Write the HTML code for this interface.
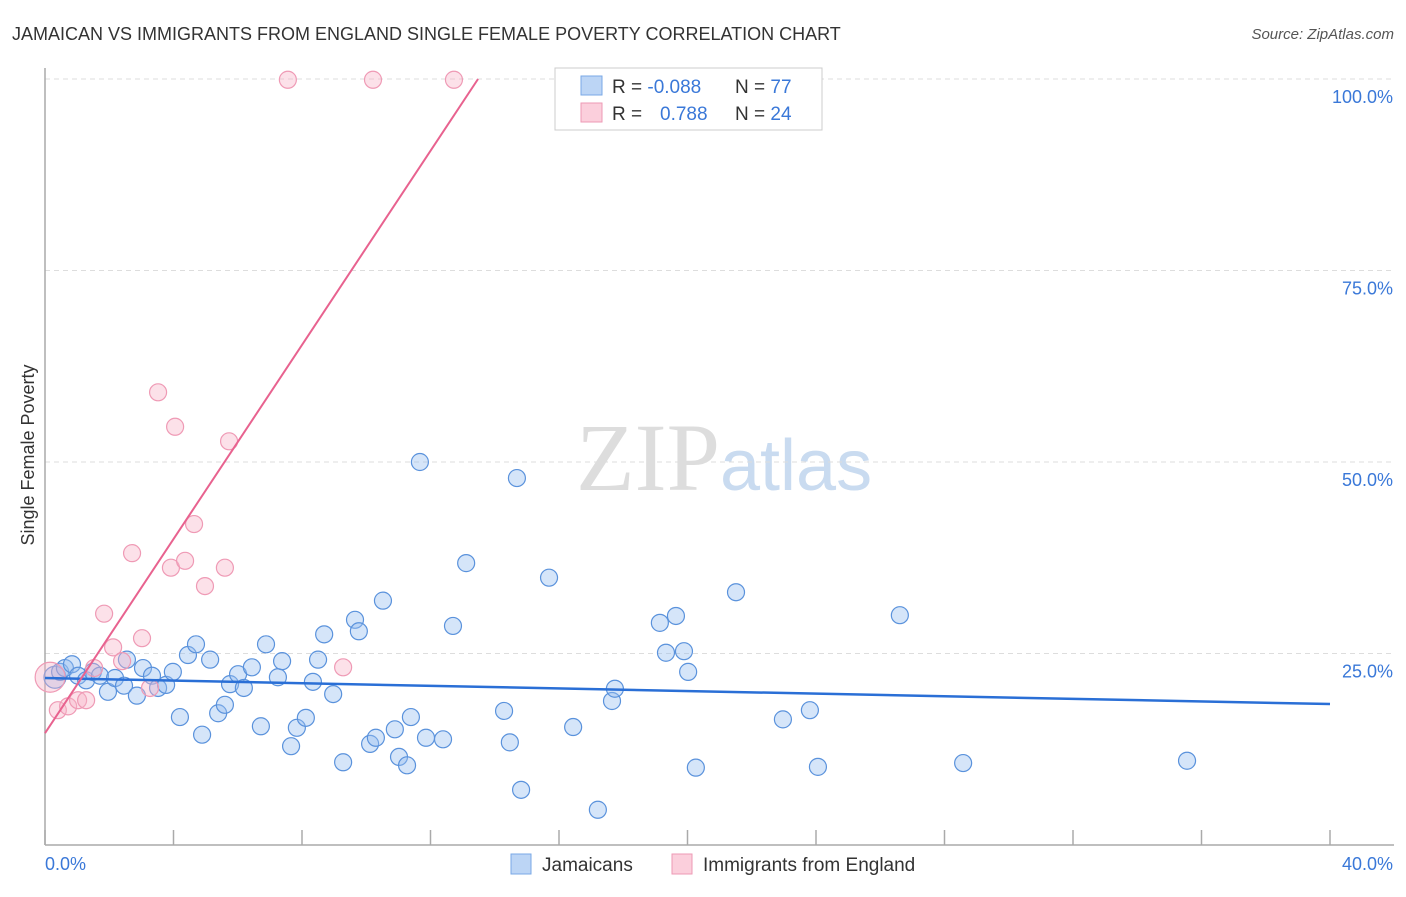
<!DOCTYPE html>
<html><head><meta charset="utf-8"><style>
body{margin:0;background:#fff;font-family:"Liberation Sans",sans-serif;}
</style></head><body>
<svg id="c" width="1406" height="892" xmlns="http://www.w3.org/2000/svg">
<text x="12" y="40" font-size="18" fill="#333">JAMAICAN VS IMMIGRANTS FROM ENGLAND SINGLE FEMALE POVERTY CORRELATION CHART</text>
<text x="1394" y="39" font-size="15" fill="#555" font-style="italic" text-anchor="end">Source: ZipAtlas.com</text>
<text x="720" y="490" font-size="96" fill="#ddd" text-anchor="end" font-family="Liberation Serif">ZIP</text>
<text x="720" y="490" font-size="72" fill="#c9dbf0">atlas</text>
<text x="34" y="455" font-size="18" fill="#333" transform="rotate(-90 34 455)" text-anchor="middle">Single Female Poverty</text>
<g id="grid"></g><g id="axes"></g><g id="pts"></g><g id="lines"></g>
<g>
<rect x="555" y="68" width="267" height="62" fill="#fff" stroke="#ccc"/>
<rect x="581" y="76" width="21" height="19" fill="#bcd5f5" stroke="#7aa8e6"/>
<rect x="581" y="103" width="21" height="19" fill="#fbcfdc" stroke="#ee9ab5"/>
<text x="612" y="93" font-size="19" fill="#333">R = <tspan fill="#3a78d8">-0.088</tspan><tspan x="735">N = </tspan><tspan fill="#3a78d8">77</tspan></text>
<text x="612" y="120" font-size="19" fill="#333">R = <tspan x="660" fill="#3a78d8">0.788</tspan><tspan x="735">N = </tspan><tspan fill="#3a78d8">24</tspan></text>
</g>
<g>
<rect x="511" y="854" width="20" height="20" fill="#bcd5f5" stroke="#7aa8e6"/>
<text x="542" y="871" font-size="19" fill="#333">Jamaicans</text>
<rect x="672" y="854" width="20" height="20" fill="#fbcfdc" stroke="#ee9ab5"/>
<text x="703" y="871" font-size="19" fill="#333">Immigrants from England</text>
</g>
</svg>
<script>
const blueX=[0.31,0.47,0.62,0.84,1.03,1.28,1.49,1.71,1.96,2.18,2.46,2.55,2.86,3.05,3.33,3.52,3.77,3.98,4.20,4.45,4.70,4.89,5.14,5.39,5.60,5.76,6.01,6.19,6.44,6.72,6.88,7.25,7.38,7.66,7.84,8.12,8.34,8.50,8.69,8.97,9.28,9.65,9.77,10.12,10.30,10.52,10.89,11.02,11.27,11.39,11.86,12.39,11.67,12.70,13.11,14.29,14.47,14.69,14.82,15.69,16.44,17.21,17.65,17.74,19.14,19.33,19.64,19.89,20.02,20.26,21.51,22.97,23.81,24.06,26.61,28.58,35.55];
const blueY=[21.9,22.6,23.1,23.6,22.1,21.5,22.6,22.1,20.0,21.8,20.8,24.2,19.5,23.1,22.1,20.5,20.9,22.6,16.7,24.8,26.2,14.4,24.2,17.2,18.3,21.0,22.3,20.5,23.2,15.5,26.2,21.9,24.0,12.9,15.3,16.6,21.3,24.2,27.5,19.7,10.8,29.4,27.9,13.2,14.0,31.9,15.1,11.5,10.4,16.7,14.0,13.8,50.0,28.6,36.8,17.5,13.4,47.9,7.2,34.9,15.4,4.6,18.8,20.4,29.0,25.1,29.9,25.3,22.6,10.1,33.0,16.4,17.6,10.2,30.0,10.7,11.0];
const pinkX=[0.16,0.40,0.72,1.03,1.28,1.53,1.84,2.12,2.40,2.71,3.02,3.27,3.52,3.92,4.05,4.36,4.64,4.98,5.60,5.73,9.28,7.56,10.21,12.73];
const pinkY=[21.9,17.6,18.1,18.9,18.9,23.1,30.2,25.8,24.0,38.1,27.0,20.5,59.1,36.2,54.6,37.1,41.9,33.8,36.2,52.7,23.2,99.9,99.9,99.9];
const yTicks=[25,50,75,100];
const xTickVals=[0,4,8,12,16,20,24,28,32,36,40];
const blueTrend=[21.8,18.4];
const pinkTrend=[14.6,100];const pinkTrendX=[0,13.48];
const X=v=>45+v*32.125, Y=v=>845-v*7.66;
const NS="http://www.w3.org/2000/svg";
function mk(t,a,p){const e=document.createElementNS(NS,t);for(const k in a)e.setAttribute(k,a[k]);document.getElementById(p).appendChild(e);return e;}
yTicks.forEach(v=>{
 const l=mk('line',{x1:45,x2:1394,y1:Y(v),y2:Y(v),stroke:'#ddd','stroke-dasharray':'5,4'},'grid');
 
 
 const t=mk('text',{x:1393,y:Y(v)+24,'font-size':18,fill:'#3a78d8','text-anchor':'end'},'grid');
 t.textContent=v.toFixed(1)+'%';
 
 
});
let ax=mk('line',{x1:45,x2:45,y1:68,y2:845,stroke:'#aaa','stroke-width':1.5},'axes');


ax=mk('line',{x1:45,x2:1394,y1:845,y2:845,stroke:'#aaa','stroke-width':1.5},'axes');


xTickVals.forEach(v=>{
 const l=mk('line',{x1:X(v),x2:X(v),y1:830,y2:845,stroke:'#aaa','stroke-width':1.5},'axes');
 
 
});
[[0,'start'],[40,'end']].forEach(([v,a])=>{
 const t=mk('text',{x:v==0?45:1393,y:870,'font-size':18,fill:'#3a78d8','text-anchor':a},'axes');
 t.textContent=v.toFixed(1)+'%';
 
 
});
blueX.forEach((x,i)=>{
 const c=mk('circle',{cx:X(x),cy:Y(blueY[i]),r:i==0?11:8.5,fill:'rgba(150,190,240,0.4)',stroke:'#5a92dc','stroke-width':1.2},'pts');
 
 
});
pinkX.forEach((x,i)=>{
 const c=mk('circle',{cx:X(x),cy:Y(pinkY[i]),r:i==0?15:8.5,fill:'rgba(248,180,200,0.4)',stroke:'#ef9ab5','stroke-width':1.2},'pts');
 
 
});
let tl=mk('line',{x1:X(0),y1:Y(blueTrend[0]),x2:X(40),y2:Y(blueTrend[1]),stroke:'#2a6fd6','stroke-width':2.5},'lines');


tl=mk('line',{x1:X(pinkTrendX[0]),y1:Y(pinkTrend[0]),x2:X(pinkTrendX[1]),y2:Y(pinkTrend[1]),stroke:'#e8628f','stroke-width':2},'lines');


</script>
</body></html>
